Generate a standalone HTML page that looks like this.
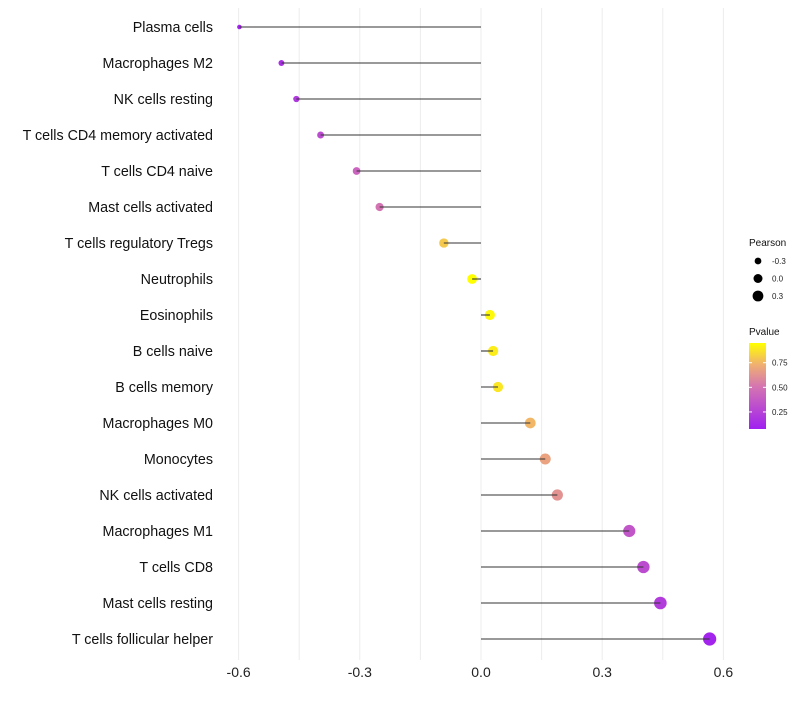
<!DOCTYPE html>
<html><head><meta charset="utf-8"><style>
body{margin:0;background:#fff;font-family:"Liberation Sans",sans-serif;}
</style></head><body>
<svg id="chart" width="800" height="700" xmlns="http://www.w3.org/2000/svg"></svg>
<script>
const categories=["Plasma cells","Macrophages M2","NK cells resting","T cells CD4 memory activated","T cells CD4 naive","Mast cells activated","T cells regulatory  Tregs","Neutrophils","Eosinophils","B cells naive","B cells memory","Macrophages M0","Monocytes","NK cells activated","Macrophages M1","T cells CD8","Mast cells resting","T cells follicular helper"];
const pearson=[-0.598,-0.494,-0.457,-0.397,-0.308,-0.251,-0.092,-0.022,0.022,0.030,0.042,0.122,0.159,0.189,0.367,0.402,0.444,0.566];
const pvalue=[0.1,0.15,0.2,0.3,0.42,0.5,0.8,0.95,0.93,0.9,0.88,0.75,0.68,0.62,0.35,0.3,0.22,0.1];
const xTicks=[-0.6,-0.3,0,0.3,0.6];
const xTickLabels=["-0.6","-0.3","0.0","0.3","0.6"];
const sizeLegend=[-0.3,0,0.3];
const colorTicks=[0.25,0.5,0.75];
const svg=document.getElementById('chart');
const NS="http://www.w3.org/2000/svg";
function el(t,a,p){const e=document.createElementNS(NS,t);for(const k in a)e.setAttribute(k,a[k]);(p||svg).appendChild(e);return e;}
const x=v=>481+v*404;
const y=i=>27+i*36;
const r=v=>Math.sqrt(Math.max(2,25+33*v));
const stops=[[0,[160,32,240]],[0.5,[213,118,176]],[0.75,[240,176,112]],[1,[255,255,0]]];
const pmin=0.077,pmax=0.95;
function col(p){let t=(p-pmin)/(pmax-pmin);t=Math.max(0,Math.min(1,t));for(let i=1;i<stops.length;i++){if(t<=stops[i][0]){const a=stops[i-1],b=stops[i];const f=(t-a[0])/(b[0]-a[0]);return 'rgb('+a[1].map((c,j)=>Math.round(c+(b[1][j]-c)*f)).join(',')+')';}}return 'rgb(255,255,0)';}
for(let v=-0.6;v<=0.61;v+=0.15){const g=el('line',{x1:x(v),x2:x(v),y1:8,y2:660,stroke:'#ececec','stroke-width':1});}
xTicks.forEach((v,i)=>{const t=el('text',{x:x(v),y:677,'text-anchor':'middle','font-size':14,fill:'#222'});t.textContent=xTickLabels[i];});
categories.forEach((c,i)=>{
const t=el('text',{x:213,y:y(i)+5,'text-anchor':'end','font-size':14.3,fill:'#111'});t.textContent=c;

const p=el('circle',{cx:x(pearson[i]),cy:y(i),r:r(pearson[i]),fill:col(pvalue[i])});

const l=el('line',{x1:x(0),x2:x(pearson[i]),y1:y(i),y2:y(i),stroke:'#333','stroke-width':1.1});

});
let t=el('text',{x:749,y:246,'font-size':10,fill:'#111'});t.textContent='Pearson';
sizeLegend.forEach((v,i)=>{const cy=261+i*17.5;const c=el('circle',{cx:758,cy:cy,r:r(v)-0.5,fill:'#000'});
const tt=el('text',{x:772,y:cy+3,'font-size':8,fill:'#222'});tt.textContent=v.toFixed(1);});
t=el('text',{x:749,y:335,'font-size':10,fill:'#111'});t.textContent='Pvalue';
const defs=el('defs',{});const lg=el('linearGradient',{id:'pg',x1:0,y1:1,x2:0,y2:0},defs);
stops.forEach(s=>el('stop',{offset:s[0],'stop-color':'rgb('+s[1].join(',')+')'},lg));
const bar=el('rect',{x:749,y:343,width:17,height:86,fill:'url(#pg)'});
const cy=v=>429-(v-pmin)/(pmax-pmin)*86;
colorTicks.forEach(v=>{el('line',{x1:749,x2:752,y1:cy(v),y2:cy(v),stroke:'#fff'});el('line',{x1:763,x2:766,y1:cy(v),y2:cy(v),stroke:'#fff'});
const tt=el('text',{x:772,y:cy(v)+3,'font-size':8,fill:'#222'});tt.textContent=v.toFixed(2);});
</script>
</body></html>
